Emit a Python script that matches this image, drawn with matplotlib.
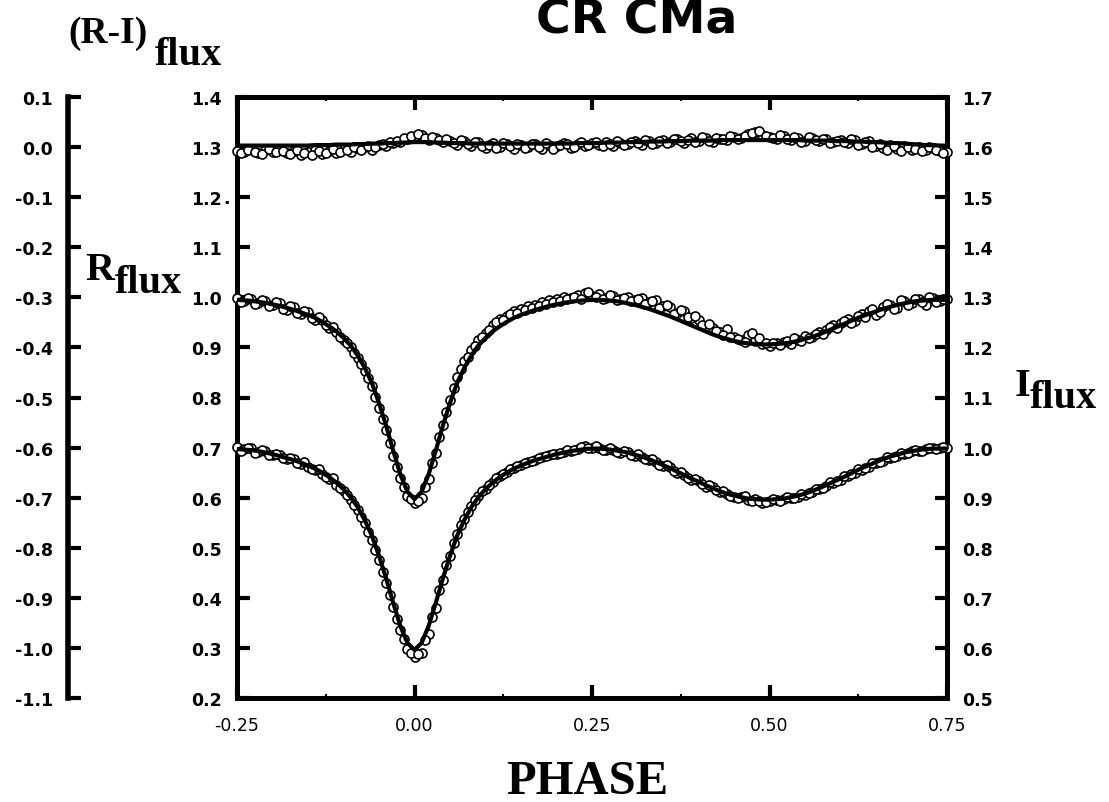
import numpy as np
import matplotlib
matplotlib.use('Agg')
import matplotlib.pyplot as plt

# orbital phase of the model points and of the first half of the observations
phase = [-0.25, -0.24, -0.23, -0.22, -0.21, -0.20, -0.19, -0.18, -0.17, -0.16,
         -0.15, -0.14, -0.13, -0.12, -0.11, -0.10, -0.09, -0.08, -0.07, -0.06,
         -0.05, -0.04, -0.03, -0.02, -0.01, 0.00, 0.01, 0.02, 0.03, 0.04,
         0.05, 0.06, 0.07, 0.08, 0.09, 0.10, 0.11, 0.12, 0.13, 0.14,
         0.15, 0.16, 0.17, 0.18, 0.19, 0.20, 0.21, 0.22, 0.23, 0.24,
         0.25, 0.26, 0.27, 0.28, 0.29, 0.30, 0.31, 0.32, 0.33, 0.34,
         0.35, 0.36, 0.37, 0.38, 0.39, 0.40, 0.41, 0.42, 0.43, 0.44,
         0.45, 0.46, 0.47, 0.48, 0.49, 0.50, 0.51, 0.52, 0.53, 0.54,
         0.55, 0.56, 0.57, 0.58, 0.59, 0.60, 0.61, 0.62, 0.63, 0.64,
         0.65, 0.66, 0.67, 0.68, 0.69, 0.70, 0.71, 0.72, 0.73, 0.74,
         0.75]
# phase of the second half of the observations
phase_b = [-0.245, -0.235, -0.225, -0.215, -0.205, -0.195, -0.185, -0.175, -0.165, -0.155,
           -0.145, -0.135, -0.125, -0.115, -0.105, -0.095, -0.085, -0.075, -0.065, -0.055,
           -0.045, -0.035, -0.025, -0.015, -0.005, 0.005, 0.015, 0.025, 0.035, 0.045,
           0.055, 0.065, 0.075, 0.085, 0.095, 0.105, 0.115, 0.125, 0.135, 0.145,
           0.155, 0.165, 0.175, 0.185, 0.195, 0.205, 0.215, 0.225, 0.235, 0.245,
           0.255, 0.265, 0.275, 0.285, 0.295, 0.305, 0.315, 0.325, 0.335, 0.345,
           0.355, 0.365, 0.375, 0.385, 0.395, 0.405, 0.415, 0.425, 0.435, 0.445,
           0.455, 0.465, 0.475, 0.485, 0.495, 0.505, 0.515, 0.525, 0.535, 0.545,
           0.555, 0.565, 0.575, 0.585, 0.595, 0.605, 0.615, 0.625, 0.635, 0.645,
           0.655, 0.665, 0.675, 0.685, 0.695, 0.705, 0.715, 0.725, 0.735, 0.745]

# R flux (inner left axis)
r_obs = [0.998, 0.992, 0.997, 0.989, 0.993, 0.984, 0.988, 0.975, 0.980, 0.966,
         0.970, 0.955, 0.954, 0.938, 0.930, 0.915, 0.900, 0.878, 0.852, 0.822,
         0.780, 0.735, 0.684, 0.640, 0.603, 0.590, 0.600, 0.638, 0.690, 0.745,
         0.796, 0.840, 0.872, 0.895, 0.915, 0.928, 0.945, 0.957, 0.963, 0.972,
         0.976, 0.982, 0.985, 0.990, 0.994, 0.997, 1.000, 0.998, 1.004, 1.008,
         1.003, 1.006, 0.999, 1.002, 0.997, 1.001, 0.994, 0.998, 0.990, 0.995,
         0.983, 0.980, 0.969, 0.972, 0.958, 0.955, 0.941, 0.938, 0.930, 0.936,
         0.921, 0.914, 0.925, 0.912, 0.906, 0.903, 0.909, 0.911, 0.907, 0.915,
         0.923, 0.920, 0.931, 0.935, 0.944, 0.948, 0.957, 0.953, 0.967, 0.972,
         0.965, 0.981, 0.984, 0.979, 0.992, 0.989, 0.996, 0.985, 0.998, 0.993,
         0.997]
r_obs_b = [0.990, 0.999, 0.987, 0.995, 0.982, 0.990, 0.976, 0.983, 0.968, 0.973,
           0.958, 0.960, 0.944, 0.940, 0.921, 0.908, 0.889, 0.866, 0.838, 0.801,
           0.758, 0.710, 0.661, 0.622, 0.598, 0.594, 0.622, 0.670, 0.722, 0.772,
           0.818, 0.856, 0.880, 0.903, 0.920, 0.935, 0.950, 0.954, 0.966, 0.968,
           0.974, 0.979, 0.983, 0.986, 0.991, 0.993, 0.996, 1.001, 0.997, 1.011,
           1.000, 0.997, 1.005, 0.994, 0.999, 0.992, 0.996, 0.986, 0.992, 0.978,
           0.985, 0.966, 0.975, 0.960, 0.962, 0.944, 0.946, 0.932, 0.925, 0.921,
           0.917, 0.911, 0.929, 0.918, 0.909, 0.908, 0.904, 0.913, 0.918, 0.912,
           0.919, 0.927, 0.926, 0.940, 0.939, 0.952, 0.949, 0.962, 0.960, 0.976,
           0.970, 0.986, 0.977, 0.994, 0.985, 0.997, 0.991, 1.000, 0.990, 0.996]
r_fit = [0.995, 0.994, 0.993, 0.991, 0.989, 0.986, 0.983, 0.979, 0.975, 0.970,
         0.965, 0.959, 0.951, 0.942, 0.932, 0.919, 0.904, 0.884, 0.859, 0.829,
         0.789, 0.744, 0.694, 0.647, 0.612, 0.597, 0.612, 0.647, 0.694, 0.744,
         0.789, 0.829, 0.859, 0.884, 0.904, 0.919, 0.932, 0.942, 0.951, 0.959,
         0.965, 0.970, 0.975, 0.979, 0.983, 0.986, 0.989, 0.991, 0.993, 0.994,
         0.995, 0.995, 0.994, 0.993, 0.991, 0.988, 0.985, 0.981, 0.977, 0.972,
         0.967, 0.962, 0.956, 0.950, 0.944, 0.938, 0.932, 0.926, 0.921, 0.917,
         0.913, 0.910, 0.908, 0.907, 0.906, 0.906, 0.907, 0.908, 0.910, 0.913,
         0.917, 0.921, 0.926, 0.932, 0.938, 0.944, 0.950, 0.956, 0.962, 0.967,
         0.972, 0.977, 0.981, 0.985, 0.988, 0.991, 0.993, 0.994, 0.995, 0.995,
         0.995]

# I flux (right axis)
i_obs = [1.001, 0.997, 0.999, 0.992, 0.994, 0.986, 0.985, 0.977, 0.978, 0.968,
         0.962, 0.956, 0.947, 0.938, 0.926, 0.913, 0.896, 0.875, 0.849, 0.816,
         0.776, 0.729, 0.682, 0.636, 0.598, 0.582, 0.590, 0.628, 0.680, 0.736,
         0.784, 0.828, 0.858, 0.884, 0.903, 0.918, 0.932, 0.943, 0.952, 0.960,
         0.966, 0.972, 0.976, 0.981, 0.985, 0.988, 0.992, 0.994, 0.997, 1.003,
         1.000, 0.999, 0.996, 0.995, 0.990, 0.991, 0.984, 0.982, 0.975, 0.972,
         0.963, 0.961, 0.950, 0.946, 0.936, 0.934, 0.922, 0.921, 0.912, 0.908,
         0.902, 0.901, 0.896, 0.898, 0.890, 0.893, 0.895, 0.897, 0.899, 0.902,
         0.905, 0.912, 0.917, 0.923, 0.930, 0.935, 0.944, 0.950, 0.955, 0.962,
         0.969, 0.974, 0.980, 0.984, 0.988, 0.993, 0.994, 0.997, 0.999, 1.000,
         1.000]
i_obs_b = [0.993, 1.000, 0.990, 0.995, 0.985, 0.988, 0.979, 0.980, 0.970, 0.971,
           0.957, 0.958, 0.941, 0.939, 0.919, 0.905, 0.886, 0.862, 0.832, 0.795,
           0.752, 0.705, 0.657, 0.618, 0.590, 0.588, 0.615, 0.662, 0.716, 0.766,
           0.810, 0.846, 0.872, 0.895, 0.914, 0.926, 0.939, 0.948, 0.957, 0.963,
           0.969, 0.974, 0.979, 0.983, 0.987, 0.990, 0.995, 0.996, 1.002, 0.999,
           1.004, 0.996, 0.999, 0.991, 0.994, 0.985, 0.987, 0.977, 0.978, 0.966,
           0.965, 0.953, 0.952, 0.940, 0.938, 0.927, 0.925, 0.915, 0.914, 0.904,
           0.900, 0.903, 0.894, 0.893, 0.892, 0.898, 0.894, 0.901, 0.900, 0.907,
           0.909, 0.918, 0.920, 0.931, 0.933, 0.944, 0.947, 0.958, 0.960, 0.970,
           0.972, 0.982, 0.982, 0.990, 0.989, 0.996, 0.994, 0.999, 0.997, 1.001]
i_fit = [0.997, 0.996, 0.995, 0.993, 0.990, 0.987, 0.983, 0.979, 0.975, 0.970,
         0.964, 0.958, 0.950, 0.941, 0.930, 0.917, 0.901, 0.881, 0.855, 0.824,
         0.784, 0.739, 0.690, 0.644, 0.610, 0.596, 0.610, 0.644, 0.690, 0.739,
         0.784, 0.824, 0.855, 0.881, 0.901, 0.917, 0.930, 0.941, 0.950, 0.958,
         0.964, 0.970, 0.975, 0.979, 0.983, 0.987, 0.990, 0.993, 0.995, 0.997,
         0.998, 0.998, 0.997, 0.995, 0.993, 0.990, 0.986, 0.982, 0.977, 0.971,
         0.965, 0.959, 0.952, 0.945, 0.938, 0.932, 0.925, 0.919, 0.913, 0.908,
         0.904, 0.901, 0.898, 0.897, 0.896, 0.896, 0.897, 0.898, 0.901, 0.904,
         0.908, 0.913, 0.919, 0.925, 0.932, 0.938, 0.945, 0.952, 0.959, 0.965,
         0.971, 0.977, 0.982, 0.986, 0.990, 0.993, 0.995, 0.997, 0.998, 0.998,
         0.998]

# (R-I) flux (outer left axis)
ri_obs = [-0.008, -0.010, -0.004, -0.011, -0.006, -0.009, -0.003, -0.012, -0.008, -0.015,
          -0.010, -0.005, -0.013, -0.007, -0.012, -0.004, -0.010, -0.002, 0.001, -0.006,
          0.004, 0.002, 0.008, 0.011, 0.016, 0.020, 0.024, 0.015, 0.019, 0.010,
          0.013, 0.005, 0.012, 0.003, 0.010, -0.002, 0.008, 0.001, 0.006, -0.003,
          0.004, 0.000, 0.007, -0.004, 0.005, 0.002, 0.009, -0.001, 0.006, 0.003,
          0.008, 0.004, 0.011, 0.002, 0.009, 0.006, 0.013, 0.005, 0.012, 0.008,
          0.015, 0.010, 0.016, 0.009, 0.018, 0.013, 0.019, 0.011, 0.017, 0.014,
          0.021, 0.018, 0.026, 0.031, 0.024, 0.020, 0.017, 0.022, 0.015, 0.019,
          0.013, 0.018, 0.012, 0.016, 0.010, 0.015, 0.008, 0.014, 0.006, 0.012,
          0.003, -0.002, 0.005, -0.004, 0.002, -0.006, 0.001, -0.005, -0.002, -0.007,
          -0.010]
ri_obs_b = [-0.012, -0.005, -0.009, -0.013, -0.004, -0.010, -0.007, -0.014, -0.006, -0.011,
            -0.016, -0.008, -0.011, -0.003, -0.009, -0.006, 0.000, -0.005, 0.003, 0.000,
            0.006, 0.010, 0.013, 0.018, 0.022, 0.026, 0.019, 0.021, 0.014, 0.016,
            0.009, 0.014, 0.006, 0.011, 0.002, 0.005, -0.001, 0.009, 0.002, 0.007,
            -0.002, 0.006, 0.001, 0.008, -0.003, 0.004, 0.007, 0.001, 0.010, 0.005,
            0.010, 0.003, 0.007, 0.012, 0.004, 0.010, 0.008, 0.015, 0.007, 0.013,
            0.008, 0.017, 0.012, 0.014, 0.010, 0.020, 0.012, 0.018, 0.016, 0.022,
            0.016, 0.023, 0.028, 0.033, 0.022, 0.019, 0.024, 0.016, 0.021, 0.011,
            0.020, 0.014, 0.017, 0.009, 0.013, 0.011, 0.016, 0.004, 0.010, 0.001,
            0.006, -0.005, 0.003, -0.008, 0.000, -0.003, -0.008, 0.000, -0.006, -0.012]
ri_fit = [0.003, 0.003, 0.003, 0.003, 0.003, 0.003, 0.003, 0.003, 0.003, 0.003,
          0.003, 0.004, 0.004, 0.004, 0.005, 0.005, 0.005, 0.006, 0.006, 0.007,
          0.007, 0.008, 0.008, 0.009, 0.009, 0.010, 0.010, 0.010, 0.009, 0.009,
          0.008, 0.008, 0.008, 0.007, 0.007, 0.007, 0.007, 0.007, 0.007, 0.007,
          0.007, 0.007, 0.007, 0.007, 0.007, 0.007, 0.007, 0.007, 0.008, 0.008,
          0.008, 0.008, 0.009, 0.009, 0.009, 0.010, 0.010, 0.010, 0.011, 0.011,
          0.011, 0.012, 0.012, 0.012, 0.013, 0.013, 0.013, 0.013, 0.014, 0.014,
          0.014, 0.014, 0.014, 0.014, 0.014, 0.014, 0.014, 0.014, 0.014, 0.014,
          0.013, 0.013, 0.013, 0.013, 0.012, 0.012, 0.012, 0.011, 0.011, 0.010,
          0.010, 0.009, 0.008, 0.008, 0.007, 0.006, 0.005, 0.004, 0.004, 0.003,
          0.003]

r_ticks = [0.2, 0.3, 0.4, 0.5, 0.6, 0.7, 0.8, 0.9, 1.0, 1.1, 1.2, 1.3, 1.4]
r_labels = ['0.2', '0.3', '0.4', '0.5', '0.6', '0.7', '0.8', '0.9', '1.0', '1.1', '1.2', '1.3', '1.4']
i_ticks = [0.5, 0.6, 0.7, 0.8, 0.9, 1.0, 1.1, 1.2, 1.3, 1.4, 1.5, 1.6, 1.7]
i_labels = ['0.5', '0.6', '0.7', '0.8', '0.9', '1.0', '1.1', '1.2', '1.3', '1.4', '1.5', '1.6', '1.7']
ri_ticks = [0.1, 0.0, -0.1, -0.2, -0.3, -0.4, -0.5, -0.6, -0.7, -0.8, -0.9, -1.0, -1.1]
ri_labels = ['0.1', '0.0', '-0.1', '-0.2', '-0.3', '-0.4', '-0.5', '-0.6', '-0.7', '-0.8', '-0.9', '-1.0', '-1.1']
phase_ticks = [-0.25, 0.0, 0.25, 0.5, 0.75]
phase_labels = ['-0.25', '0.00', '0.25', '0.50', '0.75']
phase_minor = [-0.125, 0.125, 0.375, 0.625]

W, H = 1109, 803
fig = plt.figure(figsize=(W / 100, H / 100), dpi=100)
ax = fig.add_axes([237 / W, 1 - 699 / H, 710 / W, 601 / H])
ax2 = ax.twinx()
ax3 = ax.twinx()

spine_w = 3.6
tick_font = dict(family='DejaVu Sans', fontweight='bold', fontsize=12.5)

# main axis (R flux)
ax.set_xlim(-0.25, 0.75)
ax.set_ylim(0.2, 1.4)
ax.set_yticks(r_ticks, r_labels, **tick_font)
ax.set_xticks(phase_ticks, phase_labels, family='DejaVu Sans', fontsize=12.5)
ax.set_xticks(phase_minor, minor=True)
ax.tick_params(axis='y', which='major', direction='in', length=9.5, width=3, pad=11, right=False)
ax.tick_params(axis='x', which='major', direction='in', length=9.5, width=3, pad=13, top=True)
ax.tick_params(axis='x', which='minor', direction='in', length=3, width=1.5, top=True)
for s in ['left', 'bottom', 'top']:
    ax.spines[s].set_linewidth(spine_w)
ax.spines['right'].set_visible(False)
ax.annotate('.', xy=(0, 1.2), xycoords=('axes fraction', 'data'), xytext=(-10, -4.5),
            textcoords='offset points', ha='left', va='baseline', **tick_font)

# right axis (I flux)
ax2.set_ylim(0.5, 1.7)
ax2.set_yticks(i_ticks, i_labels, **tick_font)
ax2.tick_params(axis='y', direction='in', length=9, width=3, pad=11)
for s in ['left', 'bottom', 'top']:
    ax2.spines[s].set_visible(False)
ax2.spines['right'].set_linewidth(spine_w)

# outer left axis ((R-I) flux)
ax3.set_ylim(-1.1, 0.1)
ax3.yaxis.set_ticks_position('left')
ax3.spines['left'].set_position(('axes', -169 / 710))
ax3.set_yticks(ri_ticks, ri_labels, **tick_font)
ax3.tick_params(axis='y', direction='in', length=9, width=3, pad=11)
for s in ['right', 'bottom', 'top']:
    ax3.spines[s].set_visible(False)
ax3.spines['left'].set_visible(True)
ax3.spines['left'].set_linewidth(4)

pts = dict(ls='none', marker='o', ms=6.5, mfc='white', mec='black', mew=1.2,
           clip_on=False, zorder=3)
for a, p, y in [(ax, phase, r_obs), (ax, phase_b, r_obs_b),
                (ax2, phase, i_obs), (ax2, phase_b, i_obs_b),
                (ax3, phase, ri_obs), (ax3, phase_b, ri_obs_b)]:
    a.plot(p, y, **pts)
ax.plot(phase, r_fit, color='black', lw=3, zorder=4)
ax2.plot(phase, i_fit, color='black', lw=3, zorder=4)
ax3.plot(phase, ri_fit, color='black', lw=3, zorder=4)


def ftext(x, y, s, **kw):
    fig.text(x / W, 1 - y / H, s, va='baseline', **kw)


serif = dict(family='Liberation Serif', fontweight='bold')
ftext(637, 33, 'CR CMa', ha='center', family='DejaVu Sans', fontweight='bold', fontsize=34)
ftext(68, 43, '(R-I)', fontsize=27, **serif)
ftext(155, 65, 'flux', fontsize=29, **serif)
ftext(85, 280, 'R', fontsize=29, **serif)
ftext(115, 293, 'flux', fontsize=29, **serif)
ftext(1015, 396, 'I', fontsize=29, **serif)
ftext(1030, 408, 'flux', fontsize=29, **serif)
ftext(587, 794, 'PHASE', ha='center', fontsize=35, **serif)

fig.savefig('out.png', dpi=100)
